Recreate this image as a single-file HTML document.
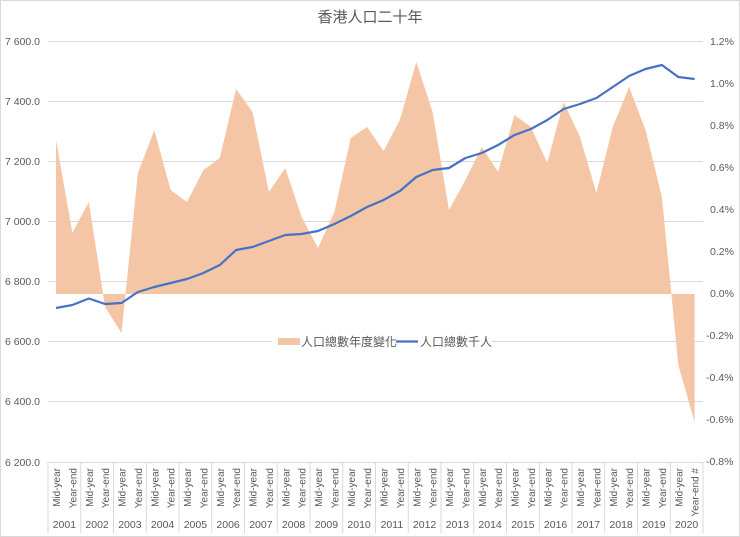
<!DOCTYPE html>
<html><head><meta charset="utf-8"><style>
html,body{margin:0;padding:0;background:#fff}
svg{display:block;font-family:"Liberation Sans","Noto Sans CJK TC",sans-serif}
</style></head><body>
<svg width="740" height="537" viewBox="0 0 740 537">
<rect x="0.5" y="0.5" width="739" height="536" fill="#fff" stroke="#d9d9d9"/>
<text x="370" y="22" text-anchor="middle" font-size="15" fill="#595959">香港人口二十年</text>
<g stroke="#d9d9d9" stroke-width="1">
<line x1="48" y1="41.5" x2="703" y2="41.5"/>
<line x1="48" y1="101.5" x2="703" y2="101.5"/>
<line x1="48" y1="161.5" x2="703" y2="161.5"/>
<line x1="48" y1="221.5" x2="703" y2="221.5"/>
<line x1="48" y1="281.5" x2="703" y2="281.5"/>
<line x1="48" y1="341.5" x2="703" y2="341.5"/>
<line x1="48" y1="401.5" x2="703" y2="401.5"/>
<line x1="48" y1="462.5" x2="703" y2="462.5"/>
</g>
<polygon fill="#f5c6a5" points="56,294 56,140 72.4,233 88.8,202 105.1,307 121.5,333 137.9,173 154.3,130 170.6,190 187,202 203.4,170 219.8,158 236.1,89 252.5,112 268.9,192 285.3,168 301.6,217 318,248 334.4,212 350.8,138 367.1,127 383.5,151 399.9,120 416.3,62 432.6,112 449,210 465.4,180 481.8,147 498.1,172 514.5,115 530.9,127 547.3,163 563.6,102 580,137 596.4,193 612.8,127 629.1,87 645.5,130 661.9,197 678.3,365 694.6,422 694.6,294"/>
<polyline fill="none" stroke="#4472c4" stroke-width="2.2" stroke-linejoin="round" points="56,308 72.4,305 88.8,298.5 105.1,304 121.5,303 137.9,292 154.3,287 170.6,283 187,279 203.4,273 219.8,265 236.1,250 252.5,247 268.9,241 285.3,235 301.6,234 318,231 334.4,224 350.8,216 367.1,207 383.5,200 399.9,191 416.3,177 432.6,170 449,168 465.4,158 481.8,153 498.1,145 514.5,135 530.9,129 547.3,120 563.6,109 580,104 596.4,98 612.8,87 629.1,76 645.5,69 661.9,65 678.3,77 694.6,79"/>
<g font-size="10.5" fill="#595959" text-anchor="end">
<text x="40" y="45">7 600.0</text><text x="40" y="105">7 400.0</text><text x="40" y="165">7 200.0</text><text x="40" y="225">7 000.0</text><text x="40" y="285">6 800.0</text><text x="40" y="345">6 600.0</text><text x="40" y="405">6 400.0</text><text x="40" y="466">6 200.0</text>
</g>
<g font-size="10.5" fill="#595959" text-anchor="start">
<text x="710" y="45">1.2%</text><text x="710" y="87">1.0%</text><text x="710" y="129">0.8%</text><text x="710" y="171">0.6%</text><text x="710" y="213">0.4%</text><text x="710" y="255">0.2%</text><text x="710" y="297">0.0%</text><text x="706" y="339">-0.2%</text><text x="706" y="381">-0.4%</text><text x="706" y="423">-0.6%</text><text x="706" y="465">-0.8%</text>
</g>
<rect x="272" y="333" width="220" height="17" fill="#fff"/>
<rect x="278" y="338" width="22" height="7" fill="#f5c6a5"/>
<text x="301" y="346" font-size="12" fill="#595959">人口總數年度變化</text>
<line x1="396" y1="341.5" x2="418" y2="341.5" stroke="#4472c4" stroke-width="2.2"/>
<text x="420" y="346" font-size="12" fill="#595959">人口總數千人</text>
<g id="xax" stroke="#d9d9d9">
<line x1="48" y1="462" x2="48" y2="533"/><line x1="80.75" y1="462" x2="80.75" y2="533"/><line x1="113.5" y1="462" x2="113.5" y2="533"/><line x1="146.25" y1="462" x2="146.25" y2="533"/><line x1="179" y1="462" x2="179" y2="533"/><line x1="211.75" y1="462" x2="211.75" y2="533"/><line x1="244.5" y1="462" x2="244.5" y2="533"/><line x1="277.25" y1="462" x2="277.25" y2="533"/><line x1="310" y1="462" x2="310" y2="533"/><line x1="342.75" y1="462" x2="342.75" y2="533"/><line x1="375.5" y1="462" x2="375.5" y2="533"/><line x1="408.25" y1="462" x2="408.25" y2="533"/><line x1="441" y1="462" x2="441" y2="533"/><line x1="473.75" y1="462" x2="473.75" y2="533"/><line x1="506.5" y1="462" x2="506.5" y2="533"/><line x1="539.25" y1="462" x2="539.25" y2="533"/><line x1="572" y1="462" x2="572" y2="533"/><line x1="604.75" y1="462" x2="604.75" y2="533"/><line x1="637.5" y1="462" x2="637.5" y2="533"/><line x1="670.25" y1="462" x2="670.25" y2="533"/><line x1="703" y1="462" x2="703" y2="533"/>
</g>
<g font-size="10" fill="#595959" text-anchor="end">
<text transform="translate(60,468) rotate(-90)">Mid-year</text><text transform="translate(76.4,468) rotate(-90)">Year-end</text>
<text transform="translate(92.8,468) rotate(-90)">Mid-year</text><text transform="translate(109.1,468) rotate(-90)">Year-end</text>
<text transform="translate(125.5,468) rotate(-90)">Mid-year</text><text transform="translate(141.9,468) rotate(-90)">Year-end</text>
<text transform="translate(158.3,468) rotate(-90)">Mid-year</text><text transform="translate(174.6,468) rotate(-90)">Year-end</text>
<text transform="translate(191,468) rotate(-90)">Mid-year</text><text transform="translate(207.4,468) rotate(-90)">Year-end</text>
<text transform="translate(223.8,468) rotate(-90)">Mid-year</text><text transform="translate(240.1,468) rotate(-90)">Year-end</text>
<text transform="translate(256.5,468) rotate(-90)">Mid-year</text><text transform="translate(272.9,468) rotate(-90)">Year-end</text>
<text transform="translate(289.3,468) rotate(-90)">Mid-year</text><text transform="translate(305.6,468) rotate(-90)">Year-end</text>
<text transform="translate(322,468) rotate(-90)">Mid-year</text><text transform="translate(338.4,468) rotate(-90)">Year-end</text>
<text transform="translate(354.8,468) rotate(-90)">Mid-year</text><text transform="translate(371.1,468) rotate(-90)">Year-end</text>
<text transform="translate(387.5,468) rotate(-90)">Mid-year</text><text transform="translate(403.9,468) rotate(-90)">Year-end</text>
<text transform="translate(420.3,468) rotate(-90)">Mid-year</text><text transform="translate(436.6,468) rotate(-90)">Year-end</text>
<text transform="translate(453,468) rotate(-90)">Mid-year</text><text transform="translate(469.4,468) rotate(-90)">Year-end</text>
<text transform="translate(485.8,468) rotate(-90)">Mid-year</text><text transform="translate(502.1,468) rotate(-90)">Year-end</text>
<text transform="translate(518.5,468) rotate(-90)">Mid-year</text><text transform="translate(534.9,468) rotate(-90)">Year-end</text>
<text transform="translate(551.3,468) rotate(-90)">Mid-year</text><text transform="translate(567.6,468) rotate(-90)">Year-end</text>
<text transform="translate(584,468) rotate(-90)">Mid-year</text><text transform="translate(600.4,468) rotate(-90)">Year-end</text>
<text transform="translate(616.8,468) rotate(-90)">Mid-year</text><text transform="translate(633.1,468) rotate(-90)">Year-end</text>
<text transform="translate(649.5,468) rotate(-90)">Mid-year</text><text transform="translate(665.9,468) rotate(-90)">Year-end</text>
<text transform="translate(682.3,468) rotate(-90)">Mid-year</text><text transform="translate(698.6,468) rotate(-90)">Year-end #</text>
</g>
<g font-size="10.5" fill="#595959" text-anchor="middle">
<text x="64.4" y="528">2001</text><text x="97.1" y="528">2002</text><text x="129.9" y="528">2003</text><text x="162.6" y="528">2004</text><text x="195.4" y="528">2005</text><text x="228.1" y="528">2006</text><text x="260.9" y="528">2007</text><text x="293.6" y="528">2008</text><text x="326.4" y="528">2009</text><text x="359.1" y="528">2010</text><text x="391.9" y="528">2011</text><text x="424.6" y="528">2012</text><text x="457.4" y="528">2013</text><text x="490.1" y="528">2014</text><text x="522.9" y="528">2015</text><text x="555.6" y="528">2016</text><text x="588.4" y="528">2017</text><text x="621.1" y="528">2018</text><text x="653.9" y="528">2019</text><text x="686.6" y="528">2020</text>
</g>
</svg>
</body></html>
